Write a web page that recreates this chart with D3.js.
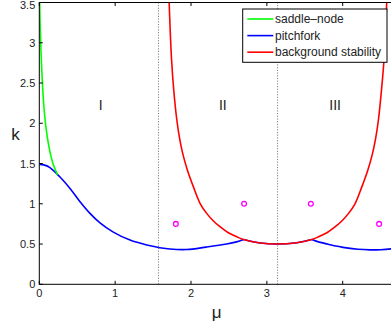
<!DOCTYPE html>
<html>
<head>
<meta charset="utf-8">
<script src="https://cdn.jsdelivr.net/npm/d3@7/dist/d3.min.js"></script>
<style>
  html, body { margin: 0; padding: 0; background: #fff; }
  svg { display: block; font-family: "Liberation Sans", Arial, sans-serif; }
</style>
</head>
<body>
<svg id="chart" width="391" height="328"></svg>
<script>
// Axis ticks
const xTicks = [0, 1, 2, 3, 4];
const yTicks = [0, 0.5, 1, 1.5, 2, 2.5, 3, 3.5];

// Saddle-node branch
const saddleMu = [0.005, 0.012, 0.022, 0.036, 0.055, 0.085, 0.125, 0.18, 0.24];
const saddleK  = [3.5,   3.2,   2.9,   2.6,   2.28,  1.97,  1.72,  1.50, 1.36];

// Pitchfork branch (corners where it meets the stability curve)
const pitchforkMu = [0, 0.07, 0.14, 0.27, 0.405, 0.537, 0.668, 0.80, 0.976, 1.196, 1.416, 1.59, 1.723, 1.943, 2.2, 2.47, 2.6, 2.692,
                     2.912, 3.1416, 3.372, 3.592,
                     3.68, 3.82, 4.05, 4.2, 4.36, 4.5, 4.637, 4.712];
const pitchforkK  = [1.49, 1.48, 1.45, 1.335, 1.19, 1.025, 0.881, 0.763, 0.648, 0.549, 0.488, 0.455, 0.438, 0.432, 0.462, 0.50, 0.527, 0.556,
                     0.513, 0.5, 0.513, 0.556,
                     0.527, 0.495, 0.452, 0.435, 0.428, 0.43, 0.44, 0.45];
const pitchforkCorners = [2.692, 3.592];

// Background stability boundary
const backgroundMu = [1.712, 1.742, 1.772, 1.812, 1.852, 1.892, 1.952, 2.032, 2.122, 2.207, 2.292, 2.382, 2.492, 2.602, 2.692, 2.912, 3.1416,
                      3.372, 3.592, 3.682, 3.792, 3.902, 3.992, 4.077, 4.162, 4.252, 4.332, 4.392, 4.432, 4.472, 4.512, 4.547, 4.58];
const backgroundK  = [3.5, 2.82, 2.42, 2.05, 1.80, 1.62, 1.42, 1.21, 1.0, 0.881, 0.79, 0.715, 0.64, 0.59, 0.556, 0.513, 0.5,
                      0.513, 0.556, 0.59, 0.64, 0.715, 0.79, 0.881, 1.0, 1.21, 1.42, 1.62, 1.80, 2.05, 2.42, 2.82, 3.5];

// Sample points
const markerMu = [1.80, 2.70, 3.58, 4.48];
const markerK  = [0.75, 1.0, 1.0, 0.75];

// Region dividers and labels
const dividerMu = [Math.PI / 2, Math.PI];
const regionNames = ["I", "II", "III"];
const regionMu = [0.81, 2.42, 3.90];
const regionK  = [2.23, 2.23, 2.23];

const legendNames = ["saddle\u2013node", "pitchfork", "background stability"];
const legendColors = ["#00ff00", "#0000ff", "#ff0000"];

const svg = d3.select("#chart");
const x0 = 39.3, xUnit = 75.85;
const x = d3.scaleLinear().domain([0, 3 * Math.PI / 2]).range([x0, x0 + xUnit * 3 * Math.PI / 2]);
const y = d3.scaleLinear().domain([0, 3.5]).range([284.3, 2.5]);
const [plotLeft, plotRight] = x.range();
const [plotBottom, plotTop] = y.range();

svg.append("defs").append("clipPath").attr("id", "plot")
  .append("rect").attr("x", plotLeft).attr("y", plotTop)
  .attr("width", plotRight - plotLeft).attr("height", plotBottom - plotTop);

const plot = svg.append("g").attr("clip-path", "url(#plot)");

// dotted dividers
plot.selectAll(".divider").data(dividerMu).join("line")
  .attr("x1", d => x(d)).attr("x2", d => x(d))
  .attr("y1", plotBottom).attr("y2", plotTop)
  .attr("stroke", "#808080").attr("stroke-width", 1).attr("stroke-dasharray", "1.2,1.5");

const line = d3.line().x(d => x(d[0])).y(d => y(d[1])).curve(d3.curveCatmullRom.alpha(0.5));

const zip = (a, b) => a.map((v, i) => [v, b[i]]);

// pitchfork, split at its corners
const pf = zip(pitchforkMu, pitchforkK);
const pfSegments = [];
let seg = [];
pf.forEach(p => {
  seg.push(p);
  if (pitchforkCorners.includes(p[0])) { pfSegments.push(seg); seg = [p]; }
});
pfSegments.push(seg);
plot.selectAll(".pf").data(pfSegments).join("path")
  .attr("d", line).attr("fill", "none").attr("stroke", "#0000ff").attr("stroke-width", 1.6);

plot.append("path").datum(zip(saddleMu, saddleK))
  .attr("d", line).attr("fill", "none").attr("stroke", "#00ff00").attr("stroke-width", 1.6);

plot.append("path").datum(zip(backgroundMu, backgroundK))
  .attr("d", line).attr("fill", "none").attr("stroke", "#ff0000").attr("stroke-width", 1.6);

plot.selectAll(".marker").data(zip(markerMu, markerK)).join("circle")
  .attr("cx", d => x(d[0])).attr("cy", d => y(d[1])).attr("r", 2.4)
  .attr("fill", "none").attr("stroke", "#ff00ff").attr("stroke-width", 1.3);

plot.selectAll(".region").data(regionNames).join("text")
  .attr("x", (d, i) => x(regionMu[i])).attr("y", (d, i) => y(regionK[i]))
  .attr("text-anchor", "middle").attr("dominant-baseline", "central")
  .attr("font-size", 14).attr("fill", "#222").text(d => d);

// axes frame with inward ticks
const tickLen = 3.5;
const axes = svg.append("g");
axes.append("rect").attr("x", plotLeft).attr("y", plotTop)
  .attr("width", plotRight - plotLeft).attr("height", plotBottom - plotTop)
  .attr("fill", "none").attr("stroke", "#000").attr("stroke-width", 1);

xTicks.forEach(t => {
  axes.append("line").attr("x1", x(t)).attr("x2", x(t)).attr("y1", plotBottom).attr("y2", plotBottom - tickLen).attr("stroke", "#000");
  axes.append("line").attr("x1", x(t)).attr("x2", x(t)).attr("y1", plotTop).attr("y2", plotTop + tickLen).attr("stroke", "#000");
  axes.append("text").attr("x", x(t)).attr("y", plotBottom + 13).attr("text-anchor", "middle")
    .attr("font-size", 11).attr("fill", "#222").text(t);
});
yTicks.forEach(t => {
  axes.append("line").attr("x1", plotLeft).attr("x2", plotLeft + tickLen).attr("y1", y(t)).attr("y2", y(t)).attr("stroke", "#000");
  axes.append("line").attr("x1", plotRight).attr("x2", plotRight - tickLen).attr("y1", y(t)).attr("y2", y(t)).attr("stroke", "#000");
  axes.append("text").attr("x", plotLeft - 4).attr("y", Math.max(y(t), 5)).attr("text-anchor", "end").attr("dominant-baseline", "central")
    .attr("font-size", 11).attr("fill", "#222").text(t);
});

svg.append("text").attr("x", 216.7).attr("y", 318).attr("text-anchor", "middle")
  .attr("font-size", 17).attr("fill", "#222").text("\u03bc");
svg.append("text").attr("x", 15.5).attr("y", 134).attr("text-anchor", "middle").attr("dominant-baseline", "central")
  .attr("font-size", 17).attr("fill", "#222").text("k");

// legend
const lg = svg.append("g").attr("transform", "translate(242.7,9)");
lg.append("rect").attr("width", 144.3).attr("height", 53.3).attr("fill", "#fff").attr("stroke", "#000").attr("stroke-width", 1);
legendNames.forEach((name, i) => {
  const yy = 10 + i * 16.6;
  lg.append("line").attr("x1", 4.6).attr("x2", 30.6).attr("y1", yy).attr("y2", yy)
    .attr("stroke", legendColors[i]).attr("stroke-width", 1.6);
  lg.append("text").attr("x", 32.3).attr("y", yy).attr("dominant-baseline", "central")
    .attr("font-size", 12).attr("fill", "#222").text(name);
});
</script>
</body>
</html>
